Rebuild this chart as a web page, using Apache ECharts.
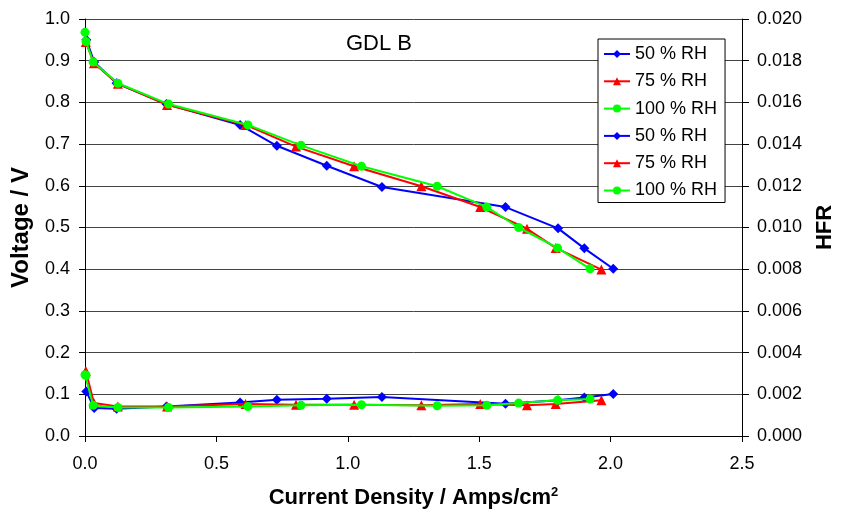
<!DOCTYPE html>
<html>
<head>
<meta charset="utf-8">
<script src="https://cdn.jsdelivr.net/npm/echarts@6/dist/echarts.min.js"></script>
<style>html,body{margin:0;padding:0;background:#fff;}#c{width:844px;height:518px;}</style>
</head>
<body>
<div id="c"></div>
<script>
// Current density (A/cm2)
const currentBlue  = [0.005, 0.035, 0.12, 0.31, 0.59, 0.73, 0.92, 1.13, 1.60, 1.80, 1.90, 2.01];
const currentRed   = [0.003, 0.034, 0.125, 0.312, 0.611, 0.803, 1.024, 1.28, 1.504, 1.682, 1.791, 1.965];
const currentGreen = [0.0, 0.004, 0.031, 0.125, 0.318, 0.62, 0.822, 1.052, 1.34, 1.529, 1.65, 1.798, 1.922];
// Voltage (V)
const voltBlue  = [0.950, 0.897, 0.846, 0.796, 0.746, 0.696, 0.648, 0.597, 0.549, 0.498, 0.450, 0.401];
const voltRed   = [0.945, 0.894, 0.845, 0.794, 0.746, 0.694, 0.647, 0.599, 0.549, 0.497, 0.451, 0.399];
const voltGreen = [0.968, 0.946, 0.897, 0.846, 0.796, 0.746, 0.697, 0.647, 0.599, 0.549, 0.500, 0.451, 0.401];
// HFR
const hfrBlue  = [0.00214, 0.00134, 0.00131, 0.00142, 0.00161, 0.00174, 0.00179, 0.00187, 0.00155, 0.00172, 0.00185, 0.00201];
const hfrRed   = [0.00312, 0.00158, 0.00142, 0.00142, 0.00153, 0.00150, 0.00150, 0.00147, 0.00153, 0.00147, 0.00153, 0.00171];
const hfrGreen = [0.00294, 0.00290, 0.00147, 0.00137, 0.00137, 0.00141, 0.00147, 0.00150, 0.00145, 0.00147, 0.00158, 0.00171, 0.00177];

const legendNames = ['50 % RH', '75 % RH', '100 % RH', '50 % RH ', '75 % RH ', '100 % RH '];
const xTicks = { min: 0, max: 2.5, interval: 0.5 };
const vTicks = { min: 0, max: 1.0, interval: 0.1 };
const hTicks = { min: 0, max: 0.02, interval: 0.002 };

const FONT = 'Liberation Sans, Arial, sans-serif';
const zip = (xs, ys) => xs.map((x, i) => [x, ys[i]]);

const styles = [
  { color: '#0000FF', symbol: 'diamond', size: 10 },
  { color: '#FF0000', symbol: 'triangle', size: 10 },
  { color: '#00FF00', symbol: 'circle', size: 9 }
];
const sets = [
  [currentBlue, voltBlue, 0], [currentRed, voltRed, 0], [currentGreen, voltGreen, 0],
  [currentBlue, hfrBlue, 1], [currentRed, hfrRed, 1], [currentGreen, hfrGreen, 1]
];

const series = sets.map((s, i) => {
  const st = styles[i % 3];
  return {
    name: legendNames[i],
    type: 'line',
    yAxisIndex: s[2],
    data: zip(s[0], s[1]),
    symbol: st.symbol,
    symbolSize: st.size,
    showAllSymbol: true,
    lineStyle: { color: st.color, width: 2 },
    itemStyle: { color: st.color },
    emphasis: { disabled: true },
    animation: false,
    z: 2 + i
  };
});

const chart = echarts.init(document.getElementById('c'));
chart.setOption({
  backgroundColor: '#fff',
  animation: false,
  textStyle: { fontFamily: FONT },
  title: {
    text: 'GDL B', left: 346, top: 33, padding: 0,
    textStyle: { fontFamily: FONT, fontSize: 22, fontWeight: 'normal', color: '#000' }
  },
  grid: { left: 85, right: 91, top: 19, bottom: 82, containLabel: false },
  legend: {
    data: legendNames,
    orient: 'vertical',
    left: 598, top: 39,
    backgroundColor: '#fff',
    borderColor: '#000', borderWidth: 1,
    padding: [6, 3, 3, 5],
    itemWidth: 26, itemHeight: 10, itemGap: 9.3,
    textStyle: { fontFamily: FONT, fontSize: 18, color: '#000' }
  },
  xAxis: {
    type: 'value', min: xTicks.min, max: xTicks.max, interval: xTicks.interval,
    name: 'Current Density / Amps/cm{sup|2}',
    nameLocation: 'middle', nameGap: 50,
    nameTextStyle: {
      fontFamily: FONT, fontSize: 22, fontWeight: 'bold', color: '#000',
      rich: { sup: { fontFamily: FONT, fontSize: 13, fontWeight: 'bold', verticalAlign: 'top', padding: [0, 0, 10, 0], color: '#000' } }
    },
    axisLine: { show: true, onZero: false, lineStyle: { color: '#000', width: 1 } },
    axisTick: { show: true, length: 6, lineStyle: { color: '#000' } },
    axisLabel: { margin: 19, fontSize: 18, color: '#000', fontFamily: FONT, formatter: v => v.toFixed(1) },
    splitLine: { show: false }
  },
  yAxis: [
    {
      type: 'value', min: vTicks.min, max: vTicks.max, interval: vTicks.interval,
      name: 'Voltage / V', nameLocation: 'middle', nameGap: 52,
      nameTextStyle: { fontFamily: FONT, fontSize: 24, fontWeight: 'bold', color: '#000' },
      axisLine: { show: true, lineStyle: { color: '#000', width: 1 } },
      axisTick: { show: true, length: 6, lineStyle: { color: '#000' } },
      axisLabel: { margin: 15, fontSize: 18, color: '#000', fontFamily: FONT, formatter: v => v.toFixed(1) },
      splitLine: { show: true, lineStyle: { color: '#444', width: 1 } }
    },
    {
      type: 'value', min: hTicks.min, max: hTicks.max, interval: hTicks.interval,
      position: 'right',
      name: 'HFR', nameLocation: 'middle', nameGap: 72,
      nameTextStyle: { fontFamily: FONT, fontSize: 22, fontWeight: 'bold', color: '#000' },
      axisLine: { show: true, lineStyle: { color: '#000', width: 1 } },
      axisTick: { show: true, length: 7, lineStyle: { color: '#000' } },
      axisLabel: { margin: 15, fontSize: 18, color: '#000', fontFamily: FONT, formatter: v => v.toFixed(3) },
      splitLine: { show: false }
    }
  ],
  series: series
});
</script>
</body>
</html>
